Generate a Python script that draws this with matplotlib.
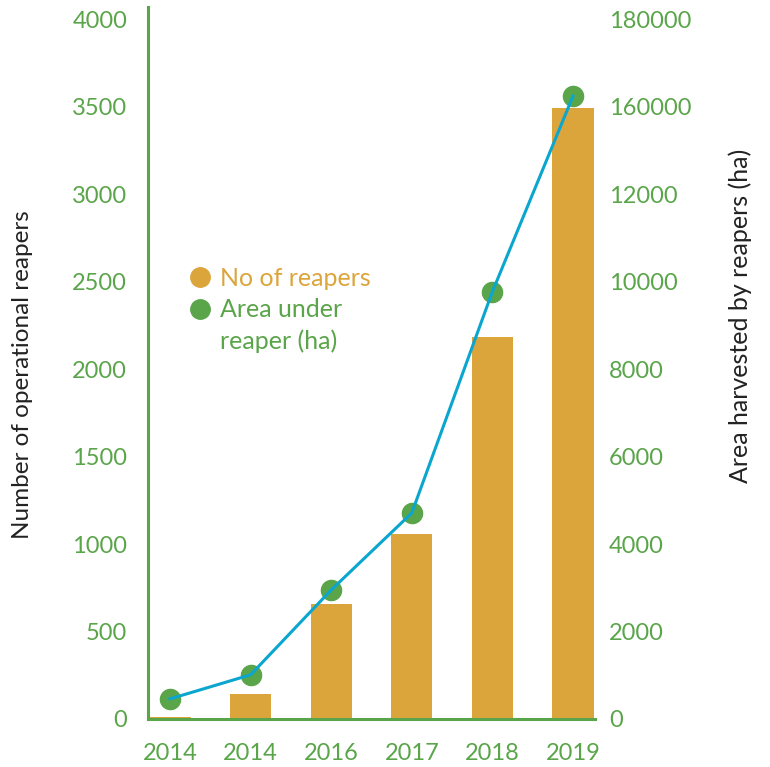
"""
Operational reapers and area harvested by reapers, 2014-2019
"""
import matplotlib
matplotlib.use('Agg')
import matplotlib.pyplot as plt
from matplotlib.lines import Line2D

# Data
years = ['2014', '2014', '2016', '2017', '2018', '2019']
reapers = [12, 140, 660, 1055, 2185, 3490]
area_ha = [460, 1010, 2950, 4710, 9770, 14240]
left_ticks = [0, 500, 1000, 1500, 2000, 2500, 3000, 3500, 4000]
right_ticks = [0, 2000, 4000, 6000, 8000, 10000, 12000, 14000, 16000]
right_tick_labels = ['0', '2000', '4000', '6000', '8000', '10000', '12000',
                     '160000', '180000']
legend_labels = ['No of reapers', 'Area under', 'reaper (ha)']

orange = '#dca53c'
green = '#5aa54a'
blue = '#0aa6cf'

plt.rcParams['font.family'] = ['Lato', 'DejaVu Sans']


def main():
	fig = plt.figure(figsize=(7.7, 7.67), dpi=100)
	ax = fig.add_axes([0.1922, 0.0626, 0.5805, 0.9283])
	x = list(range(len(years)))

	# bars on the left axis
	ax.bar(x, reapers, width=0.51, color=orange, zorder=2)
	ax.set_xlim(-0.273, 5.273)
	ax.set_ylim(0, 4070)
	ax.set_xticks(x)
	ax.set_xticklabels(years)
	ax.set_yticks(left_ticks)
	ax.tick_params(axis='both', length=0, labelsize=17, labelcolor=green)
	ax.tick_params(axis='y', pad=15)
	ax.tick_params(axis='x', pad=17)
	for s in ['top', 'right']:
		ax.spines[s].set_visible(False)
	for s in ['left', 'bottom']:
		ax.spines[s].set_color(green)
		ax.spines[s].set_linewidth(2.2)
	ax.set_ylabel('Number of operational reapers', fontsize=17.5, color='#222222')
	ax.yaxis.set_label_coords(-0.257, 0.483)

	# line + points on the right axis
	ax2 = ax.twinx()
	ax2.plot(x, area_ha, color=blue, linewidth=2.2, zorder=3)
	ax2.plot(x, area_ha, linestyle='none', marker='o', markersize=14.5,
	         color=green, zorder=2)
	ax2.set_ylim(0, 4070 * 4)
	ax2.set_yticks(right_ticks)
	ax2.set_yticklabels(right_tick_labels)
	ax2.tick_params(axis='y', length=0, labelsize=17, labelcolor=green, pad=10)
	for s in ['top', 'right', 'left', 'bottom']:
		ax2.spines[s].set_visible(False)
	ax2.set_ylabel('Area harvested by reapers (ha)', fontsize=18, color='#222222')
	ax2.yaxis.set_label_coords(1.298, 0.566)

	# legend: second label split over two rows so the dot sits on the first line
	handles = [
		Line2D([], [], linestyle='none', marker='o', markersize=14, color=orange),
		Line2D([], [], linestyle='none', marker='o', markersize=14, color=green),
		Line2D([], [], linestyle='none', marker=None),
	]
	ax.legend(handles, legend_labels,
	          loc='upper left', bbox_to_anchor=(0.227, 0.668),
	          bbox_transform=fig.transFigure, frameon=False, fontsize=18,
	          labelcolor=[orange, green, green], handletextpad=0.31,
	          handlelength=1.0, borderpad=0, labelspacing=0.33)

	fig.savefig('out.png', dpi=100)


if __name__ == '__main__':
	main()
